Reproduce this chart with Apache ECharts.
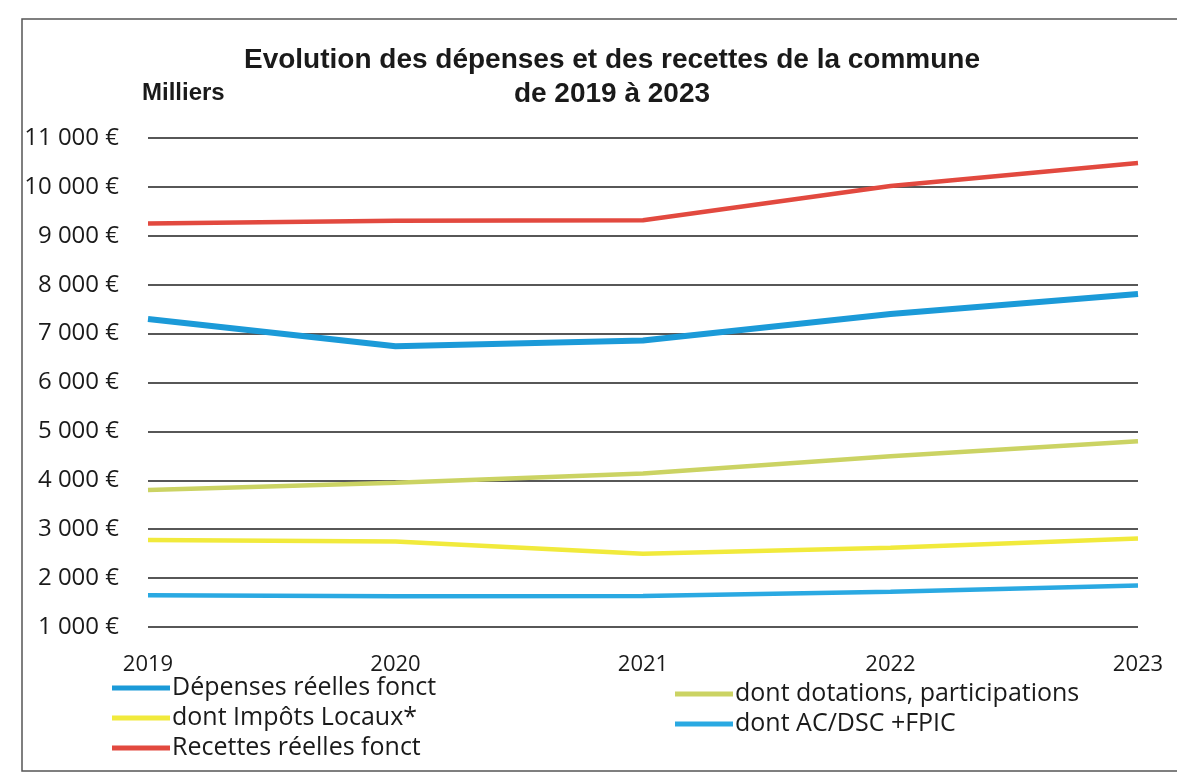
<!DOCTYPE html>
<html>
<head>
<meta charset="utf-8">
<script src="https://cdn.jsdelivr.net/npm/echarts@6/dist/echarts.min.js"></script>
<style>
html,body{margin:0;padding:0;background:#fff;}
#chart{width:1177px;height:778px;}
</style>
</head>
<body>
<div id="chart"></div>
<script>
// Data (thousands of euros)
const years = ['2019', '2020', '2021', '2022', '2023'];
const seriesNames = ['Dépenses réelles fonct', 'dont Impôts Locaux*', 'Recettes réelles fonct', 'dont dotations, participations', 'dont AC/DSC +FPIC'];
const depensesReelles = [7300, 6740, 6860, 7400, 7810];
const impotsLocaux = [2780, 2750, 2500, 2620, 2810];
const recettesReelles = [9250, 9310, 9320, 10020, 10490];
const dotations = [3800, 3950, 4140, 4490, 4800];
const acDscFpic = [1650, 1630, 1635, 1720, 1850];
const titleLines = ['Evolution des dépenses et des recettes de la commune', 'de 2019 à 2023'];
const unitLabel = 'Milliers';

const colors = ['#1b9ad8', '#f1ea3c', '#e2493f', '#cbd363', '#2aa9e2'];
const widths = [6, 4.5, 4.5, 4.5, 4.5];
const values = [depensesReelles, impotsLocaux, recettesReelles, dotations, acDscFpic];

const chart = echarts.init(document.getElementById('chart'));
const fmt = v => String(v).replace(/\B(?=(\d{3})+(?!\d))/g, ' ') + ' €';
const textFont = 'Open Sans';

chart.setOption({
  backgroundColor: '#ffffff',
  animation: false,
  title: {
    text: titleLines.join('\n'),
    left: 607,
    top: 38,
    textAlign: 'center',
    textStyle: { fontFamily: 'Liberation Sans', fontWeight: 'bold', fontSize: 28, lineHeight: 34, color: '#1a1a1a' }
  },
  graphic: [
    { type: 'rect', silent: true, shape: { x: 22, y: 19, width: 1200, height: 752 }, style: { fill: 'none', stroke: '#555', lineWidth: 1.5 } },
    { type: 'text', left: 142, top: 81, style: { text: unitLabel, font: 'bold 24px "Liberation Sans"', fill: '#1a1a1a' } }
  ],
  legend: [
    {
      data: seriesNames.slice(0, 3), orient: 'vertical', left: 107, top: 670,
      icon: 'rect', itemWidth: 58, itemHeight: 5, itemGap: 4,
      textStyle: { fontFamily: textFont, fontSize: 25, lineHeight: 26, color: '#1a1a1a', padding: [0, 0, 0, -3] }
    },
    {
      data: seriesNames.slice(3), orient: 'vertical', left: 670, top: 676,
      icon: 'rect', itemWidth: 58, itemHeight: 5, itemGap: 4,
      textStyle: { fontFamily: textFont, fontSize: 25, lineHeight: 26, color: '#1a1a1a', padding: [0, 0, 0, -3] }
    }
  ],
  grid: { left: 148, right: 39, top: 138, bottom: 151 },
  xAxis: {
    type: 'category', data: years, boundaryGap: false,
    axisLine: { show: false }, axisTick: { show: false },
    axisLabel: { fontFamily: textFont, fontSize: 22, color: '#1a1a1a', margin: 27 }
  },
  yAxis: {
    type: 'value', min: 1000, max: 11000, interval: 1000,
    axisLine: { show: false }, axisTick: { show: false },
    axisLabel: { formatter: fmt, fontFamily: textFont, fontSize: 24, color: '#1a1a1a', margin: 29 },
    splitLine: { lineStyle: { color: '#1f1f1f', width: 1.6 } }
  },
  series: seriesNames.map((name, i) => ({
    name: name, type: 'line', data: values[i], symbol: 'none',
    lineStyle: { color: colors[i], width: widths[i] },
    itemStyle: { color: colors[i] },
    z: 3
  }))
});
</script>
</body>
</html>
